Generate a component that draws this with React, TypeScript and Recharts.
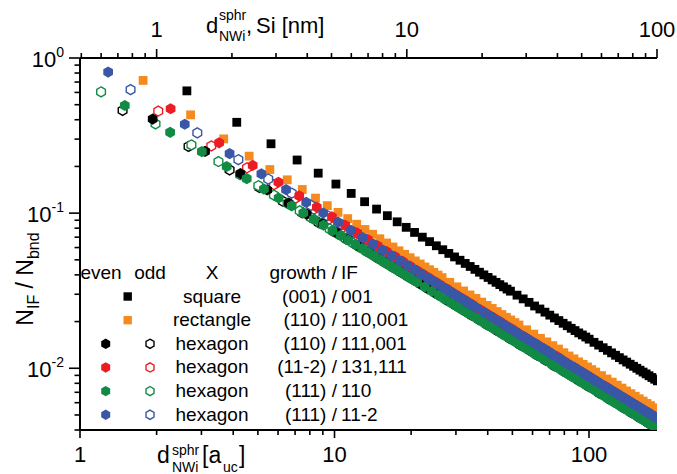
import React from "react";
import { ScatterChart, Scatter, XAxis, YAxis } from "recharts";

type Pt = [number, number];

// [d_NWi^sphr in a_uc, N_IF / N_bnd]
const squareEven: Pt[] = [
  [2.63, 0.614], [4.13, 0.385], [5.63, 0.28], [7.13, 0.22], [8.63, 0.181], [10.13, 0.154], [11.63, 0.134],
  [13.13, 0.1185], [14.63, 0.1062], [16.13, 0.0963], [17.63, 0.0879], [19.13, 0.081], [20.63, 0.0751],
  [22.13, 0.07], [23.63, 0.0655], [25.13, 0.0616], [26.63, 0.0581], [28.13, 0.055], [29.63, 0.0522],
  [31.13, 0.0497], [32.63, 0.0474], [34.13, 0.0453], [35.63, 0.0434], [37.13, 0.0416], [38.63, 0.04],
  [40.13, 0.0385], [41.63, 0.0371], [43.13, 0.0358], [44.63, 0.0346], [46.13, 0.0335], [47.63, 0.0324],
  [49.13, 0.0314], [52.13, 0.0296], [55.13, 0.028], [58.13, 0.0266], [61.13, 0.0252], [64.13, 0.0241],
  [67.13, 0.023], [70.13, 0.022], [73.13, 0.0211], [76.13, 0.0203], [79.13, 0.0195], [82.13, 0.0188],
  [85.13, 0.0181], [88.13, 0.0175], [91.13, 0.0169], [94.13, 0.0164], [97.13, 0.0159], [100.13, 0.0154],
  [104.63, 0.0147], [109.13, 0.0141], [113.63, 0.01357], [118.13, 0.01305], [122.63, 0.01257],
  [127.13, 0.01213], [131.63, 0.01171], [136.13, 0.01132], [140.63, 0.01096], [145.13, 0.01062],
  [149.63, 0.0103], [154.13, 0.01], [158.63, 0.00972], [163.13, 0.00945], [167.63, 0.0092],
  [172.13, 0.00895], [176.63, 0.00872], [181.13, 0.0085], [185.63, 0.0083],
];

const rectEven: Pt[] = [
  [1.77, 0.717], [2.72, 0.43], [3.67, 0.301], [4.62, 0.233], [5.57, 0.191], [6.52, 0.164], [7.47, 0.142],
  [8.42, 0.125], [9.37, 0.1118], [10.32, 0.1011], [11.27, 0.0922], [12.22, 0.0848], [13.17, 0.0785],
  [14.12, 0.0731], [15.07, 0.0684], [16.02, 0.0642], [16.97, 0.0605], [17.92, 0.0572], [18.87, 0.0543],
  [19.82, 0.0516], [20.77, 0.0492], [21.72, 0.047], [22.67, 0.045], [23.62, 0.0432], [24.57, 0.0415],
  [25.52, 0.0399], [26.47, 0.0384], [28.37, 0.0358], [30.27, 0.0335], [32.17, 0.0315], [34.07, 0.0297],
  [35.97, 0.0282], [37.87, 0.0267], [39.77, 0.0254], [41.67, 0.0243], [43.57, 0.0232], [45.47, 0.0222],
  [47.37, 0.0213], [49.27, 0.0205], [51.17, 0.0197], [53.07, 0.019], [56.87, 0.0177], [60.67, 0.0166],
  [64.47, 0.0156], [68.27, 0.0148], [72.07, 0.014], [75.87, 0.0133], [79.67, 0.0126], [83.47, 0.012],
  [87.27, 0.0115], [91.07, 0.011], [94.87, 0.0106], [98.67, 0.0102], [102.47, 0.0098], [106.27, 0.00945],
  [111.97, 0.00897], [117.67, 0.00853], [123.37, 0.00814], [129.07, 0.00778], [134.77, 0.00745],
  [140.47, 0.00714], [146.17, 0.00686], [151.87, 0.0066], [157.57, 0.00636], [163.27, 0.00614],
  [168.97, 0.00593], [174.67, 0.00574], [180.37, 0.00556], [186.07, 0.00538],
];

const hex110Odd: Pt[] = [
  [1.47, 0.459], [2.67, 0.269], [3.87, 0.19], [5.07, 0.1465], [6.27, 0.1192], [7.47, 0.1006], [8.67, 0.0869],
  [9.87, 0.0766], [11.07, 0.0685], [12.27, 0.0619], [13.47, 0.0564], [14.67, 0.0518], [15.87, 0.048],
  [17.07, 0.0446], [18.27, 0.0417], [19.47, 0.0392], [20.67, 0.0369], [23.07, 0.0331], [25.47, 0.03],
  [27.87, 0.0275], [30.27, 0.0253], [32.67, 0.0234], [35.07, 0.0218], [39.87, 0.0192], [44.67, 0.0172],
  [49.47, 0.0155], [54.27, 0.0141], [59.07, 0.013], [63.87, 0.012], [68.67, 0.0112], [78.27, 0.00982],
  [87.87, 0.00874], [97.47, 0.00789], [107.07, 0.00718], [116.67, 0.00659], [126.27, 0.00609],
  [135.87, 0.00566], [145.47, 0.00529], [155.07, 0.00496], [164.67, 0.00467], [174.27, 0.00442],
  [183.87, 0.00419],
];

const hex110Even: Pt[] = [
  [1.93, 0.404], [3.1, 0.25], [4.27, 0.18], [5.44, 0.1411], [6.61, 0.1159], [7.78, 0.0984], [8.95, 0.0854],
  [10.12, 0.0755], [11.29, 0.0676], [12.46, 0.0613], [13.63, 0.056], [14.8, 0.0515], [15.97, 0.0478],
  [17.14, 0.0445], [18.31, 0.0416], [19.48, 0.0391], [20.65, 0.0369], [21.82, 0.0349], [22.99, 0.0331],
  [25.33, 0.0301], [27.67, 0.0275], [30.01, 0.0254], [32.35, 0.0235], [34.69, 0.0219], [37.03, 0.0206],
  [39.37, 0.0193], [44.05, 0.0173], [48.73, 0.0156], [53.41, 0.0142], [58.09, 0.0131], [62.77, 0.0121],
  [67.45, 0.0113], [72.13, 0.0105], [81.49, 0.00933], [90.85, 0.00837], [100.21, 0.00759],
  [109.57, 0.00694], [118.93, 0.00639], [128.29, 0.00593], [137.65, 0.00552], [147.01, 0.00517],
  [156.37, 0.00486], [165.73, 0.00459], [175.09, 0.00434], [184.45, 0.00412],
];

const hex112Odd: Pt[] = [
  [2.03, 0.455], [3.28, 0.271], [4.53, 0.196], [5.78, 0.1527], [7.03, 0.1249], [8.28, 0.1058], [9.53, 0.0916],
  [10.78, 0.0809], [12.03, 0.0724], [13.28, 0.0655], [14.53, 0.0598], [15.78, 0.055], [17.03, 0.051],
  [18.28, 0.0474], [19.53, 0.0444], [20.78, 0.0417], [22.03, 0.0393], [23.28, 0.0372], [24.53, 0.0353],
  [27.03, 0.032], [29.53, 0.0293], [32.03, 0.027], [34.53, 0.025], [37.03, 0.0233], [39.53, 0.0218],
  [42.03, 0.0205], [47.03, 0.0183], [52.03, 0.0166], [57.03, 0.0151], [62.03, 0.0139], [67.03, 0.0129],
  [72.03, 0.012], [82.03, 0.0105], [92.03, 0.00936], [102.03, 0.00844], [112.03, 0.00769],
  [122.03, 0.00706], [132.03, 0.00652], [142.03, 0.00606], [152.03, 0.00566], [162.03, 0.00531],
  [172.03, 0.005], [182.03, 0.00473],
];

const hex112Even: Pt[] = [
  [2.27, 0.471], [3.52, 0.284], [4.77, 0.203], [6.02, 0.1581], [7.27, 0.1291], [8.52, 0.1092], [9.77, 0.0946],
  [11.02, 0.0834], [12.27, 0.0746], [13.52, 0.0675], [14.77, 0.0616], [16.02, 0.0566], [17.27, 0.0524],
  [18.52, 0.0488], [19.77, 0.0456], [21.02, 0.0428], [22.27, 0.0404], [23.52, 0.0382], [24.77, 0.0362],
  [26.02, 0.0345], [27.27, 0.0329], [28.52, 0.0314], [29.77, 0.03], [31.02, 0.0288], [32.27, 0.0277],
  [33.52, 0.0266], [34.77, 0.0257], [37.27, 0.0239], [39.77, 0.0224], [42.27, 0.0211], [44.77, 0.0199],
  [47.27, 0.0188], [49.77, 0.0179], [52.27, 0.017], [54.77, 0.0162], [57.27, 0.0155], [59.77, 0.0148],
  [62.27, 0.0142], [64.77, 0.0137], [67.27, 0.0132], [69.77, 0.0127], [74.77, 0.0119], [79.77, 0.0111],
  [84.77, 0.0104], [89.77, 0.00985], [94.77, 0.00934], [99.77, 0.00886], [104.77, 0.00844],
  [114.77, 0.0077], [124.77, 0.00708], [134.77, 0.00655], [144.77, 0.0061], [154.77, 0.0057],
  [164.77, 0.00536], [174.77, 0.00505], [184.77, 0.00477],
];

const hex111Odd: Pt[] = [
  [1.21, 0.604], [1.98, 0.376], [2.74, 0.275], [3.5, 0.215], [4.26, 0.1767], [5.02, 0.1502], [5.78, 0.1306],
  [6.54, 0.1155], [7.3, 0.1035], [8.06, 0.0938], [8.82, 0.0858], [9.58, 0.079], [10.34, 0.0732],
  [11.1, 0.0683], [11.86, 0.0639], [12.62, 0.06], [13.38, 0.0566], [14.14, 0.0536], [14.9, 0.0509],
  [15.66, 0.0484], [16.42, 0.0462], [17.18, 0.0441], [17.94, 0.0423], [18.7, 0.0406], [19.46, 0.039],
  [20.22, 0.0375], [21.74, 0.0349], [23.26, 0.0326], [24.78, 0.0306], [26.3, 0.0289], [27.82, 0.0273],
  [29.34, 0.0259], [30.86, 0.0246], [33.9, 0.0224], [36.94, 0.0206], [39.98, 0.019], [43.02, 0.0177],
  [46.06, 0.0165], [49.1, 0.0155], [55.18, 0.0138], [61.26, 0.0124], [67.34, 0.0113], [73.42, 0.0103],
  [79.5, 0.00956], [85.58, 0.00888], [91.66, 0.00829], [97.74, 0.00778], [109.9, 0.00691],
  [122.06, 0.00622], [134.22, 0.00566], [146.38, 0.00519], [158.54, 0.00479], [170.7, 0.00445],
  [182.86, 0.00415],
];

const hex111Even: Pt[] = [
  [1.5, 0.494], [2.26, 0.332], [3.01, 0.249], [3.77, 0.1998], [4.52, 0.167], [5.28, 0.143], [6.03, 0.1252],
  [6.79, 0.1113], [7.54, 0.1003], [8.3, 0.0912], [9.05, 0.0836], [9.81, 0.0772], [10.56, 0.0717],
  [11.32, 0.0669], [12.07, 0.0628], [12.83, 0.0591], [13.58, 0.0558], [14.34, 0.0529], [15.09, 0.0502],
  [15.85, 0.0478], [16.6, 0.0457], [17.36, 0.0437], [18.11, 0.0419], [18.87, 0.0402], [19.62, 0.0387],
  [20.38, 0.0372], [21.13, 0.0359], [22.64, 0.0335], [24.15, 0.0314], [25.66, 0.0296], [27.17, 0.0279],
  [28.68, 0.0265], [30.19, 0.0251], [31.7, 0.0239], [33.21, 0.0229], [34.72, 0.0219], [36.23, 0.021],
  [37.74, 0.0201], [39.25, 0.0194], [40.76, 0.0186], [42.27, 0.018], [44.54, 0.0171], [46.8, 0.0162],
  [49.07, 0.0155], [51.33, 0.0148], [53.6, 0.0142], [55.86, 0.0136], [58.13, 0.0131], [60.39, 0.0126],
  [62.66, 0.0121], [65.68, 0.0116], [68.7, 0.0111], [71.72, 0.0106], [74.74, 0.0102], [77.76, 0.00977],
  [80.78, 0.0094], [83.8, 0.00907], [88.33, 0.0086], [92.86, 0.00818], [97.39, 0.0078], [101.92, 0.00746],
  [106.45, 0.00714], [110.98, 0.00685], [115.51, 0.00658], [120.04, 0.00633], [124.57, 0.0061],
  [129.1, 0.00589], [135.14, 0.00562], [141.18, 0.00538], [147.22, 0.00516], [153.26, 0.00496],
  [159.3, 0.00477], [165.34, 0.0046], [171.38, 0.00443], [177.42, 0.00428], [183.46, 0.00414],
];

const hex11m2Odd: Pt[] = [
  [1.58, 0.625], [2.89, 0.329], [4.19, 0.221], [5.49, 0.166], [6.79, 0.1344], [8.09, 0.1122], [9.39, 0.0962],
  [10.69, 0.0842], [11.99, 0.0749], [13.29, 0.0674], [14.59, 0.0613], [15.89, 0.0563], [17.19, 0.0519],
  [18.49, 0.0482], [19.79, 0.045], [21.09, 0.0422], [22.39, 0.0397], [23.69, 0.0375], [24.99, 0.0356],
  [27.59, 0.0322], [30.19, 0.0294], [32.79, 0.027], [35.39, 0.025], [37.99, 0.0233], [40.59, 0.0218],
  [43.19, 0.0205], [45.79, 0.0193], [48.39, 0.0183], [50.99, 0.0173], [56.19, 0.0157], [61.39, 0.0144],
  [66.59, 0.0133], [71.79, 0.0123], [76.99, 0.0115], [82.19, 0.0107], [87.39, 0.0101], [92.59, 0.00953],
  [97.79, 0.00902], [108.19, 0.00815], [118.59, 0.00744], [128.99, 0.00684], [139.39, 0.00632],
  [149.79, 0.00588], [160.19, 0.0055], [170.59, 0.00517], [180.99, 0.00487],
];

const hex11m2Even: Pt[] = [
  [1.29, 0.812], [2.58, 0.374], [3.87, 0.242], [5.16, 0.179], [6.45, 0.1417], [7.74, 0.1174], [9.03, 0.1002],
  [10.32, 0.0874], [11.61, 0.0774], [12.9, 0.0695], [14.19, 0.0631], [15.48, 0.0577], [16.77, 0.0533],
  [18.06, 0.0494], [19.35, 0.0461], [20.64, 0.0432], [21.93, 0.0406], [23.22, 0.0383], [24.51, 0.0363],
  [25.8, 0.0344], [27.09, 0.0328], [28.38, 0.0313], [29.67, 0.0299], [30.96, 0.0287], [32.25, 0.0275],
  [33.54, 0.0264], [34.83, 0.0254], [36.12, 0.0245], [38.7, 0.0229], [41.28, 0.0215], [43.86, 0.0202],
  [46.44, 0.019], [49.02, 0.018], [51.6, 0.0171], [54.18, 0.0163], [56.76, 0.0156], [59.34, 0.0149],
  [61.92, 0.0143], [64.5, 0.0137], [67.08, 0.0132], [69.66, 0.0127], [72.24, 0.0122], [76.11, 0.0116],
  [79.98, 0.011], [83.85, 0.0105], [87.72, 0.0101], [91.59, 0.00964], [95.46, 0.00924], [99.33, 0.00888],
  [103.2, 0.00855], [107.07, 0.00824], [112.23, 0.00786], [117.39, 0.00751], [122.55, 0.0072],
  [127.71, 0.0069], [132.87, 0.00664], [138.03, 0.00639], [143.19, 0.00616], [148.35, 0.00594],
  [153.51, 0.00574], [158.67, 0.00556], [163.83, 0.00538], [168.99, 0.00522], [174.15, 0.00506],
  [179.31, 0.00492], [184.47, 0.00478],
];

const bottomTicks = [1, 2, 3, 4, 5, 6, 7, 8, 9, 10, 20, 30, 40, 50, 60, 70, 80, 90, 100];
const topTicks = [0.5, 0.6, 0.7, 0.8, 0.9, 1, 2, 3, 4, 5, 6, 7, 8, 9, 10, 20, 30, 40, 50, 60, 70, 80, 90, 100];
const yTicks = [
  0.004, 0.005, 0.006, 0.007, 0.008, 0.009, 0.01, 0.02, 0.03, 0.04, 0.05, 0.06, 0.07, 0.08, 0.09,
  0.1, 0.2, 0.3, 0.4, 0.5, 0.6, 0.7, 0.8, 0.9, 1,
];

const BLACK = "#000000";
const ORANGE = "#f58a1f";
const RED = "#ec1c24";
const GREEN = "#118a44";
const BLUE = "#3a56a6";
const FONT = "'Liberation Sans', Arial, Helvetica, sans-serif";

const legendRows = [
  { color: BLACK, kind: "square", odd: false, name: "square", growth: "(001) /", iface: "001" },
  { color: ORANGE, kind: "square", odd: false, name: "rectangle", growth: "(110) /", iface: "110,001" },
  { color: BLACK, kind: "hex", odd: true, name: "hexagon", growth: "(110) /", iface: "111,001" },
  { color: RED, kind: "hex", odd: true, name: "hexagon", growth: "(11-2) /", iface: "131,111" },
  { color: GREEN, kind: "hex", odd: true, name: "hexagon", growth: "(111) /", iface: "110" },
  { color: BLUE, kind: "hex", odd: true, name: "hexagon", growth: "(111) /", iface: "11-2" },
];

const rows = (pts: Pt[]) => pts.map(([d, r]) => ({ d, r }));

// the nm axis on top has no series of its own, it just reads its ticks
const topAxisData = topTicks.map((nm) => ({ nm }));

const isMajor = (v: number) => Math.abs(Math.log10(v) - Math.round(Math.log10(v))) < 1e-6;

function hexPoints(cx: number, cy: number, r: number) {
  const w = r * 0.866;
  return [
    [cx, cy - r], [cx + w, cy - r / 2], [cx + w, cy + r / 2],
    [cx, cy + r], [cx - w, cy + r / 2], [cx - w, cy - r / 2],
  ].map((p) => p.join(",")).join(" ");
}

const Hex = ({ cx, cy, color, hollow, r = 5.6 }: any) =>
  hollow ? (
    <polygon points={hexPoints(cx, cy, r - 0.6)} fill="#fff" stroke={color} strokeWidth={1.4} />
  ) : (
    <polygon points={hexPoints(cx, cy, r)} fill={color} />
  );

const Square = ({ cx, cy, color, s = 8.8 }: any) => (
  <rect x={cx - s / 2} y={cy - s / 2} width={s} height={s} fill={color} />
);

const BottomTick = (props: any) => {
  const { x, y, payload } = props;
  const major = isMajor(payload.value);
  return (
    <g>
      <line x1={x} x2={x} y1={y} y2={y + (major ? 8 : 5)} stroke="#000" strokeWidth={1.6} />
      {major && (
        <text x={x} y={y + 32} textAnchor="middle" fontSize={22} fontFamily={FONT} fill="#000">
          {String(payload.value)}
        </text>
      )}
    </g>
  );
};

const TopTick = (props: any) => {
  const { x, y, payload } = props;
  const major = isMajor(payload.value);
  return (
    <g>
      <line x1={x} x2={x} y1={y} y2={y - (major ? 9 : 5)} stroke="#000" strokeWidth={1.6} />
      {major && (
        <text x={x} y={y - 21.5} textAnchor="middle" fontSize={22} fontFamily={FONT} fill="#000">
          {String(payload.value)}
        </text>
      )}
    </g>
  );
};

const LeftTick = (props: any) => {
  const { x, y, payload } = props;
  const major = isMajor(payload.value);
  const exp = Math.round(Math.log10(payload.value));
  return (
    <g>
      <line x1={x} x2={x - (major ? 11 : 5.5)} y1={y} y2={y} stroke="#000" strokeWidth={1.6} />
      {major && (
        <text x={x - 16} y={y + 8.5} textAnchor="end" fontSize={22} fontFamily={FONT} fill="#000">
          <tspan>10</tspan>
          <tspan dy={-9.5} fontSize={14}>{String(exp)}</tspan>
        </text>
      )}
    </g>
  );
};

// hollow (odd) markers go down first, filled (even) ones on top
const series = [
  { data: squareEven, color: BLACK, kind: "square", hollow: false },
  { data: rectEven, color: ORANGE, kind: "square", hollow: false },
  { data: hex110Odd, color: BLACK, kind: "hex", hollow: true },
  { data: hex112Odd, color: RED, kind: "hex", hollow: true },
  { data: hex111Odd, color: GREEN, kind: "hex", hollow: true },
  { data: hex11m2Odd, color: BLUE, kind: "hex", hollow: true },
  { data: hex110Even, color: BLACK, kind: "hex", hollow: false },
  { data: hex112Even, color: RED, kind: "hex", hollow: false },
  { data: hex111Even, color: GREEN, kind: "hex", hollow: false },
  { data: hex11m2Even, color: BLUE, kind: "hex", hollow: false },
];

function Overlay() {
  const t = { fontFamily: FONT, fill: "#000" };
  return (
    <svg
      width={677}
      height={474}
      style={{ position: "absolute", left: 0, top: 0, pointerEvents: "none" }}
    >
      {/* top axis title */}
      <text x={206} y={33} fontSize={22} {...t}>d</text>
      <text x={219} y={20} fontSize={14} {...t}>sphr</text>
      <text x={219} y={41} fontSize={14} {...t}>NWi</text>
      <text x={246} y={33} fontSize={22} {...t}>,</text>
      <text x={256} y={33} fontSize={22} {...t}>Si [nm]</text>

      {/* bottom axis title */}
      <text x={157} y={463} fontSize={23} {...t}>d</text>
      <text x={172} y={455} fontSize={14} {...t}>sphr</text>
      <text x={172} y={472} fontSize={14} {...t}>NWi</text>
      <text x={202} y={463} fontSize={23} {...t}>[a</text>
      <text x={223} y={472} fontSize={14} {...t}>uc</text>
      <text x={239} y={463} fontSize={23} {...t}>]</text>

      {/* left axis title */}
      <text transform="translate(33,279) rotate(-90)" textAnchor="middle" fontSize={23} {...t}>
        <tspan>N</tspan>
        <tspan dy={6} fontSize={16}>IF</tspan>
        <tspan dy={-6}> / N</tspan>
        <tspan dy={6} fontSize={16}>bnd</tspan>
      </text>

      {/* legend table */}
      <g fontSize={19} {...t}>
        <text x={101} y={278.5} textAnchor="middle">even</text>
        <text x={150} y={278.5} textAnchor="middle">odd</text>
        <text x={212} y={278.5} textAnchor="middle">X</text>
        <text x={337} y={278.5} textAnchor="end">growth /</text>
        <text x={341} y={278.5}>IF</text>
        {legendRows.map((row, i) => {
          const base = 302.5 + i * 23.65;
          const cy = base - 6;
          return (
            <g key={i}>
              {row.kind === "square" ? (
                <Square cx={127.7} cy={cy} color={row.color} s={8.4} />
              ) : (
                <Hex cx={105.7} cy={cy} color={row.color} r={5.2} />
              )}
              {row.odd && <Hex cx={150} cy={cy} color={row.color} hollow r={5.2} />}
              <text x={212} y={base} textAnchor="middle">{row.name}</text>
              <text x={337} y={base} textAnchor="end">{row.growth}</text>
              <text x={341} y={base}>{row.iface}</text>
            </g>
          );
        })}
      </g>
    </svg>
  );
}

export default function App() {
  return (
    <div style={{ position: "absolute", left: 0, top: 0, width: 677, height: 474, background: "#fff" }}>
      <ScatterChart
        width={677}
        height={474}
        data={topAxisData}
        margin={{ top: 0, right: 20, bottom: 0, left: 0 }}
      >
        <XAxis
          dataKey="d"
          type="number"
          scale="log"
          domain={[1, 185]}
          allowDataOverflow
          ticks={bottomTicks}
          interval={0}
          tick={BottomTick}
          tickLine={false}
          tickSize={0}
          tickMargin={0}
          height={44}
          axisLine={{ stroke: "#000", strokeWidth: 2 }}
        />
        <XAxis
          xAxisId="top"
          dataKey="nm"
          orientation="top"
          type="number"
          scale="log"
          domain={[0.494, 100]}
          allowDataOverflow
          ticks={topTicks}
          interval={0}
          tick={TopTick}
          tickLine={false}
          tickSize={0}
          tickMargin={0}
          height={58}
          axisLine={{ stroke: "#000", strokeWidth: 2 }}
        />
        <YAxis
          dataKey="r"
          type="number"
          scale="log"
          domain={[0.004, 1]}
          allowDataOverflow
          ticks={yTicks}
          interval={0}
          tick={LeftTick}
          tickLine={false}
          tickSize={0}
          tickMargin={0}
          width={80}
          axisLine={{ stroke: "#000", strokeWidth: 2 }}
        />
        {series.map((s, i) => (
          <Scatter
            key={i}
            data={rows(s.data)}
            isAnimationActive={false}
            shape={(p: any) =>
              s.kind === "square" ? (
                <Square cx={p.cx} cy={p.cy} color={s.color} />
              ) : (
                <Hex cx={p.cx} cy={p.cy} color={s.color} hollow={s.hollow} />
              )
            }
          />
        ))}
      </ScatterChart>
      <Overlay />
    </div>
  );
}
